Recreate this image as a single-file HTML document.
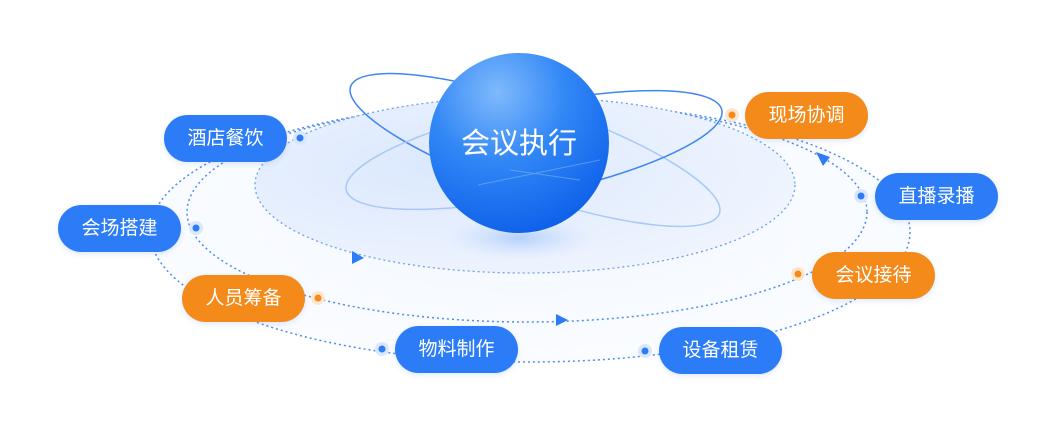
<!DOCTYPE html>
<html><head><meta charset="utf-8"><style>
html,body{margin:0;padding:0;background:#fff;}
body{width:1046px;height:431px;overflow:hidden;position:relative;font-family:"Liberation Sans","Noto Sans CJK SC",sans-serif;}
.p{position:absolute;height:47px;width:123px;border-radius:24px;color:#fff;font-size:19px;line-height:47px;text-align:center;box-shadow:0 2px 6px rgba(40,110,240,.15);}
.b{background:#2b7cf6;}
.o{background:#f48a1a;}
svg{position:absolute;left:0;top:0;}
</style></head><body>
<svg width="1046" height="431" viewBox="0 0 1046 431">
<defs>
<radialGradient id="bg" cx="0.5" cy="0.45" r="0.55">
<stop offset="0" stop-color="#f3f8ff"/><stop offset="1" stop-color="#fafcff"/>
</radialGradient>
<radialGradient id="ig" cx="0.35" cy="0.4" r="0.7">
<stop offset="0" stop-color="#dbe8fd"/><stop offset="1" stop-color="#f0f5fe"/>
</radialGradient>
<radialGradient id="sp" cx="0.38" cy="0.22" r="0.85">
<stop offset="0" stop-color="#7fbafc"/><stop offset="0.45" stop-color="#3287f6"/><stop offset="1" stop-color="#0b5ce8"/>
</radialGradient>
<radialGradient id="sh" cx="0.5" cy="0.5" r="0.5">
<stop offset="0" stop-color="#9cc2fa" stop-opacity=".7"/><stop offset="1" stop-color="#c8dcfc" stop-opacity="0"/>
</radialGradient>
<linearGradient id="lA" gradientUnits="userSpaceOnUse" x1="350" y1="0" x2="720" y2="0">
<stop offset="0.45" stop-color="#3f86f0"/><stop offset="0.65" stop-color="#a9c8f6"/>
</linearGradient>
<linearGradient id="lB" gradientUnits="userSpaceOnUse" x1="350" y1="0" x2="720" y2="0">
<stop offset="0.35" stop-color="#a9c8f6"/><stop offset="0.55" stop-color="#3f86f0"/>
</linearGradient>
</defs>
<ellipse cx="530" cy="232" rx="380" ry="130" fill="url(#bg)" stroke="#4d8ef0" stroke-width="1.5" stroke-dasharray="2 3"/>
<ellipse cx="527" cy="212" rx="340" ry="110" fill="none" stroke="#4d8ef0" stroke-width="1.5" stroke-dasharray="2 3"/>
<ellipse cx="525" cy="185" rx="270" ry="88" fill="url(#ig)" stroke="#6aa0f2" stroke-width="1.3" stroke-dasharray="2 3"/>
<ellipse cx="520" cy="238" rx="75" ry="22" fill="url(#sh)"/>
<ellipse cx="535" cy="150" rx="195" ry="45" transform="rotate(19 535 150)" fill="none" stroke="url(#lA)" stroke-width="1.5"/>
<ellipse cx="534" cy="150" rx="192" ry="45" transform="rotate(-12 534 150)" fill="none" stroke="url(#lB)" stroke-width="1.5"/>
<circle cx="519" cy="143" r="90" fill="url(#sp)"/>
<path d="M478 185 L600 160 M510 170 L580 180" fill="none" stroke="#8cc0fb" stroke-width="1" opacity=".5"/>
<text x="519" y="153" font-size="29" fill="#fff" text-anchor="middle" font-family="Liberation Sans, Noto Sans CJK SC, sans-serif">会议执行</text>
<polygon points="352,251 364,258 352,264" fill="#2b7cf6"/>
<polygon points="556,314 568,320 556,326" fill="#2b7cf6"/>
<polygon points="816,152 830,157 823,166" fill="#2b7cf6"/>
<g>
<circle cx="300" cy="138" r="7" fill="#dbe7fd"/><circle cx="300" cy="138" r="3.5" fill="#2b7cf6"/>
<circle cx="196" cy="228" r="7" fill="#dbe7fd"/><circle cx="196" cy="228" r="3.5" fill="#2b7cf6"/>
<circle cx="318" cy="298" r="7" fill="#fde6d0"/><circle cx="318" cy="298" r="3.5" fill="#f48a1a"/>
<circle cx="382" cy="349" r="7" fill="#dbe7fd"/><circle cx="382" cy="349" r="3.5" fill="#2b7cf6"/>
<circle cx="732" cy="115" r="7" fill="#fde6d0"/><circle cx="732" cy="115" r="3.5" fill="#f48a1a"/>
<circle cx="861" cy="196" r="7" fill="#dbe7fd"/><circle cx="861" cy="196" r="3.5" fill="#2b7cf6"/>
<circle cx="798" cy="274" r="7" fill="#fde6d0"/><circle cx="798" cy="274" r="3.5" fill="#f48a1a"/>
<circle cx="645" cy="351" r="7" fill="#dbe7fd"/><circle cx="645" cy="351" r="3.5" fill="#2b7cf6"/>
</g>
</svg>
<div class="p b" style="left:164px;top:115px;">酒店餐饮</div>
<div class="p b" style="left:58px;top:205px;">会场搭建</div>
<div class="p o" style="left:182px;top:275px;">人员筹备</div>
<div class="p b" style="left:395px;top:326px;">物料制作</div>
<div class="p o" style="left:745px;top:92px;">现场协调</div>
<div class="p b" style="left:875px;top:173px;">直播录播</div>
<div class="p o" style="left:812px;top:252px;">会议接待</div>
<div class="p b" style="left:659px;top:327px;">设备租赁</div>
</body></html>
